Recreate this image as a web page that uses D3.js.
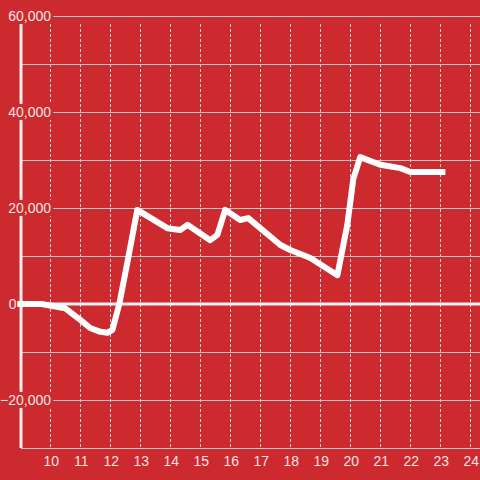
<!DOCTYPE html>
<html>
<head>
<meta charset="utf-8">
<script src="https://cdn.jsdelivr.net/npm/d3@7"></script>
<style>
  html, body { margin: 0; padding: 0; background: #cc2a2f; }
  svg { display: block; }
</style>
</head>
<body>
<div id="chart"></div>
<script>
// Data
const times = [8.9, 9.7, 10.5, 11.0, 11.33, 11.67, 11.9, 12.07, 12.3, 12.57, 12.9,
  13.9, 14.33, 14.57, 15.33, 15.57, 15.83, 16.33, 16.6, 17.67, 18.0, 18.67, 19.57,
  19.9, 20.1, 20.33, 21.0, 21.67, 22.0, 23.17];
const values = [0, 0, -900, -3300, -5000, -5800, -6000, -5400, 0, 8700, 19600,
  15800, 15400, 16500, 13300, 14400, 19600, 17500, 17900, 12300, 11250, 9600, 6000,
  16500, 26000, 30600, 29000, 28300, 27500, 27500];
const xTicks = [10, 11, 12, 13, 14, 15, 16, 17, 18, 19, 20, 21, 22, 23, 24];
const yTicks = [-30000, -20000, -10000, 0, 10000, 20000, 30000, 40000, 50000, 60000];
const yLabels = [-20000, 0, 20000, 40000, 60000];

const width = 480, height = 480;
const bg = '#cc2a2f';

const svg = d3.select('#chart')
  .append('svg')
  .attr('width', width)
  .attr('height', height);

svg.append('rect')
  .attr('width', width)
  .attr('height', height)
  .attr('fill', bg);

const x = d3.scaleLinear().domain([9, 24]).range([20.3, 470.3]);
const y = d3.scaleLinear().domain([-30000, 60000]).range([448, 16]);

const plotTop = 24, plotBottom = 448, plotLeft = 21;

// vertical dashed grid
svg.append('g')
  .selectAll('line')
  .data(xTicks)
  .join('line')
  .attr('x1', d => Math.round(x(d)) + 0.5)
  .attr('x2', d => Math.round(x(d)) + 0.5)
  .attr('y1', plotTop)
  .attr('y2', plotBottom)
  .attr('stroke', '#d9d0d0')
  .attr('stroke-width', 1)
  .attr('stroke-dasharray', '3,2');

// horizontal grid
svg.append('g')
  .selectAll('line')
  .data(yTicks.filter(d => d !== 0))
  .join('line')
  .attr('x1', plotLeft)
  .attr('x2', width)
  .attr('y1', d => Math.round(y(d)) + 0.5)
  .attr('y2', d => Math.round(y(d)) + 0.5)
  .attr('stroke', '#cfc4c4')
  .attr('stroke-width', 1);

// zero line
svg.append('line')
  .attr('x1', plotLeft)
  .attr('x2', width)
  .attr('y1', y(0))
  .attr('y2', y(0))
  .attr('stroke', '#f6f0f0')
  .attr('stroke-width', 3);

// y axis line
svg.append('line')
  .attr('x1', plotLeft)
  .attr('x2', plotLeft)
  .attr('y1', plotTop)
  .attr('y2', plotBottom)
  .attr('stroke', '#f2eeee')
  .attr('stroke-width', 3);

// data line
const line = d3.line()
  .x((d, i) => x(times[i]))
  .y(d => y(d));

svg.append('path')
  .datum(values)
  .attr('d', line)
  .attr('fill', 'none')
  .attr('stroke', '#ffffff')
  .attr('stroke-width', 6)
  .attr('stroke-linejoin', 'round');

// y labels with background boxes (the zero label sits left of the axis)
const fmt = d3.format(',');
const yl = svg.append('g').selectAll('g')
  .data(yLabels)
  .join('g')
  .attr('transform', d => `translate(${d === 0 ? 16.5 : 51}, ${y(d)})`);

yl.append('text')
  .attr('text-anchor', 'end')
  .attr('dy', '0.35em')
  .attr('font-family', 'Liberation Sans, Arial, sans-serif')
  .attr('font-size', 14)
  .attr('fill', '#f5e4e4')
  .text(d => fmt(d))
  .each(function (d) {
    if (d === 0) return;
    const b = this.getBBox();
    d3.select(this.parentNode).insert('rect', 'text')
      .attr('x', b.x - 1)
      .attr('y', b.y)
      .attr('width', b.width + 3)
      .attr('height', b.height)
      .attr('fill', bg);
  });

// x tick labels
svg.append('g')
  .selectAll('text')
  .data(xTicks)
  .join('text')
  .attr('x', d => x(d) + 1)
  .attr('y', 466)
  .attr('text-anchor', 'middle')
  .attr('font-family', 'Liberation Sans, Arial, sans-serif')
  .attr('font-size', 14)
  .attr('fill', '#f5e4e4')
  .text(d => d);
</script>
</body>
</html>
